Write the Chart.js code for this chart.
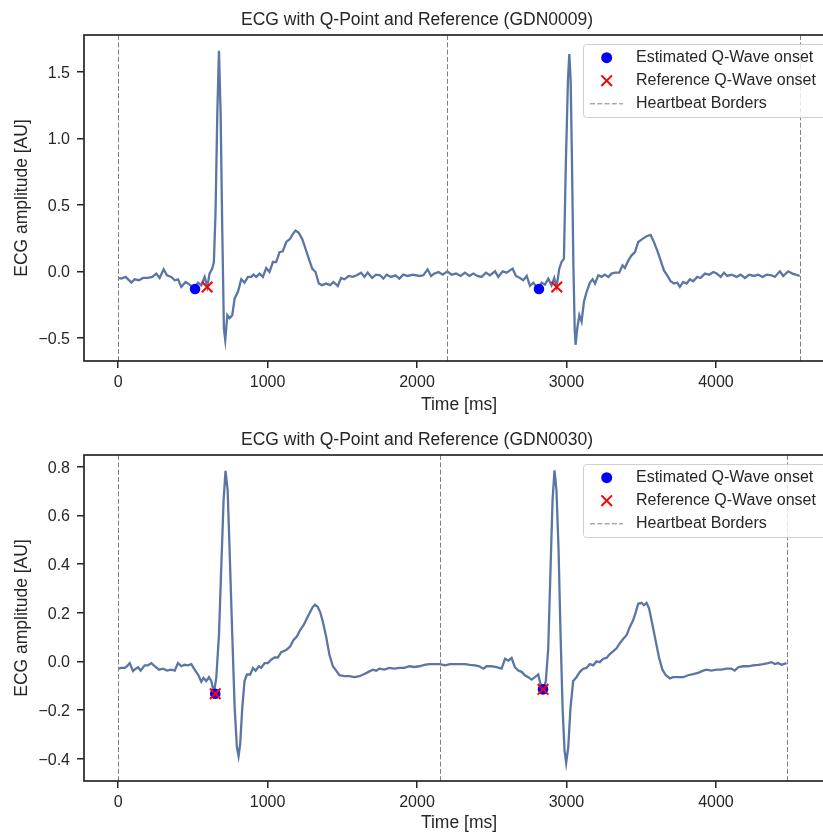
<!DOCTYPE html>
<html>
<head>
<meta charset="utf-8">
<script src="https://cdn.jsdelivr.net/npm/chart.js@4.4.1/dist/chart.umd.min.js"></script>
<style>
    html, body { margin: 0; padding: 0; background: #fff; overflow: hidden; width: 823px; height: 832px; }
    canvas { display: block; }
</style>
</head>
<body>
<canvas id="ecgTop" width="850" height="416"></canvas>
<canvas id="ecgBottom" width="850" height="420"></canvas>
<script>
// ---- datos GDN0009 ----
const ecg1Time = [0,22,51,89,111,140,167,200,229,256,278,305,327,356,379,401,423,452,479,508,535,557,579,597,612,630,641,652,664,675,686,697,708,717,731,746,764,780,802,824,846,869,891,906,924,947,969,991,1013,1036,1058,1080,1102,1125,1151,1169,1187,1209,1232,1254,1276,1299,1321,1343,1365,1392,1419,1441,1470,1492,1514,1543,1570,1597,1626,1648,1670,1699,1726,1753,1775,1797,1826,1855,1882,1908,1937,1971,2016,2042,2071,2094,2116,2145,2172,2203,2232,2261,2292,2321,2350,2377,2404,2432,2461,2488,2522,2544,2573,2600,2622,2640,2662,2689,2711,2734,2756,2778,2800,2811,2834,2856,2878,2900,2918,2934,2952,2967,2983,2996,3010,3019,3028,3037,3046,3055,3061,3072,3086,3101,3117,3135,3157,3175,3191,3213,3235,3257,3280,3302,3324,3353,3375,3391,3414,3436,3458,3480,3509,3536,3563,3585,3607,3630,3652,3674,3697,3719,3741,3759,3781,3804,3826,3848,3875,3897,3926,3955,3982,4005,4032,4054,4076,4105,4138,4165,4194,4223,4254,4283,4312,4339,4372,4394,4428,4450,4483,4512,4534,4561];
const ecg1Amp = [-0.05,-0.055,-0.042,-0.085,-0.06,-0.067,-0.05,-0.05,-0.042,-0.017,-0.05,0.015,-0.03,-0.042,-0.067,-0.06,-0.117,-0.08,-0.1,-0.13,-0.085,-0.105,-0.042,-0.117,-0.017,0.02,0.07,0.44,1.19,1.657,1.19,0.32,-0.43,-0.515,-0.33,-0.353,-0.33,-0.204,-0.154,-0.06,-0.085,-0.042,-0.042,-0.025,-0.042,-0.017,-0.042,0.025,-0.005,0.07,0.07,0.144,0.15,0.22,0.244,0.28,0.306,0.289,0.244,0.17,0.095,0.02,-0.005,-0.092,-0.104,-0.092,-0.104,-0.08,-0.11,-0.05,-0.06,-0.035,-0.042,-0.03,-0.01,-0.042,-0.01,-0.05,-0.025,-0.03,-0.055,-0.025,-0.042,-0.03,-0.055,-0.025,-0.035,-0.025,-0.035,-0.03,0.015,-0.035,-0.017,-0.005,-0.025,0,-0.025,-0.017,-0.035,-0.01,-0.035,-0.017,-0.035,-0.042,-0.01,-0.03,0,-0.042,0,-0.01,0.007,0.02,-0.035,-0.05,-0.067,-0.035,-0.11,-0.085,-0.117,-0.13,-0.085,-0.1,-0.055,-0.105,-0.05,-0.117,0.02,0.07,0.095,0.816,1.438,1.632,1.438,0.816,0.07,-0.43,-0.552,-0.43,-0.33,-0.378,-0.229,-0.154,-0.085,-0.06,-0.092,-0.03,-0.042,-0.025,-0.042,-0.017,-0.01,-0.01,0.045,0.025,0.082,0.12,0.144,0.22,0.244,0.264,0.274,0.22,0.157,0.082,0.007,-0.03,-0.075,-0.092,-0.085,-0.117,-0.08,-0.092,-0.06,-0.075,-0.042,-0.05,-0.017,-0.025,-0.005,-0.017,-0.042,-0.01,-0.035,-0.025,-0.042,-0.025,-0.05,-0.025,-0.035,-0.025,-0.042,-0.025,-0.03,-0.042,0,-0.035,0,-0.017,-0.025,-0.035];
const q1EstTime = [515, 2816];
const q1EstAmp = [-0.133, -0.133];
const q1RefTime = [596, 2935];
const q1RefAmp = [-0.118, -0.118];
const borders1 = [0, 2200, 4562];

// ---- datos GDN0030 ----
const ecg2Time = [0,22,45,60,78,100,118,134,151,178,200,223,245,274,301,327,356,379,401,423,445,468,490,512,535,557,572,590,608,624,641,657,675,690,706,719,733,746,764,780,795,806,817,831,846,862,884,902,920,942,958,980,1002,1024,1047,1069,1091,1125,1151,1174,1196,1218,1241,1263,1285,1303,1318,1336,1352,1370,1392,1414,1437,1459,1481,1514,1548,1581,1615,1648,1682,1704,1726,1748,1782,1815,1849,1882,1915,1949,1982,2016,2049,2082,2116,2154,2187,2221,2254,2288,2321,2354,2388,2417,2444,2466,2499,2533,2566,2589,2611,2633,2655,2678,2700,2722,2745,2767,2789,2811,2827,2845,2862,2878,2894,2907,2920,2933,2947,2960,2974,2987,2998,3012,3027,3045,3067,3090,3112,3134,3156,3179,3201,3223,3246,3268,3290,3312,3335,3357,3379,3402,3424,3446,3464,3480,3502,3518,3536,3553,3576,3598,3620,3642,3665,3692,3714,3747,3781,3814,3848,3881,3915,3937,3970,4004,4037,4071,4104,4126,4149,4182,4216,4249,4283,4316,4349,4372,4394,4416,4439,4472];
const ecg2Amp = [-0.03,-0.027,-0.027,-0.02,-0.007,-0.04,-0.03,-0.024,-0.038,-0.016,-0.016,-0.007,-0.02,-0.034,-0.03,-0.038,-0.034,-0.038,-0.007,-0.02,-0.014,-0.016,-0.011,-0.034,-0.054,-0.084,-0.068,-0.081,-0.065,-0.081,-0.129,-0.068,0.108,0.38,0.664,0.784,0.705,0.461,0.108,-0.19,-0.353,-0.39,-0.339,-0.19,-0.081,-0.054,-0.054,-0.027,-0.038,-0.02,-0.027,-0.007,-0.007,0.007,0.016,0.016,0.038,0.047,0.061,0.088,0.102,0.129,0.149,0.176,0.203,0.224,0.233,0.224,0.203,0.163,0.102,0.027,-0.02,-0.038,-0.057,-0.061,-0.061,-0.065,-0.061,-0.052,-0.041,-0.034,-0.038,-0.03,-0.034,-0.027,-0.03,-0.027,-0.027,-0.02,-0.023,-0.02,-0.014,-0.011,-0.011,-0.011,-0.016,-0.011,-0.011,-0.011,-0.011,-0.014,-0.016,-0.02,-0.03,-0.02,-0.02,-0.024,-0.03,0.011,0.003,0.014,-0.024,-0.038,-0.043,-0.057,-0.065,-0.075,-0.065,-0.054,-0.095,-0.119,-0.081,0.054,0.393,0.664,0.786,0.705,0.461,0.122,-0.19,-0.366,-0.418,-0.353,-0.19,-0.081,-0.065,-0.043,-0.03,-0.027,-0.011,-0.016,0,-0.003,0.011,0.014,0.03,0.041,0.054,0.075,0.092,0.108,0.142,0.169,0.203,0.237,0.241,0.231,0.241,0.217,0.149,0.081,0.014,-0.034,-0.057,-0.07,-0.065,-0.065,-0.065,-0.057,-0.052,-0.047,-0.038,-0.034,-0.038,-0.034,-0.034,-0.03,-0.03,-0.038,-0.024,-0.02,-0.02,-0.016,-0.014,-0.011,-0.007,-0.003,-0.011,-0.007,-0.014,-0.007];
const q2EstTime = [650, 2843];
const q2EstAmp = [-0.133, -0.115];
const q2RefTime = [650, 2843];
const q2RefAmp = [-0.133, -0.115];
const borders2 = [0, 2154, 4473];

// ---- ejes ----
const xTicks = [0, 1000, 2000, 3000, 4000];
const xTickLabels = ["0", "1000", "2000", "3000", "4000"];
const y1Ticks = [-0.5, 0, 0.5, 1.0, 1.5];
const y1TickLabels = ["\u22120.5", "0.0", "0.5", "1.0", "1.5"];
const y2Ticks = [-0.4, -0.2, 0, 0.2, 0.4, 0.6, 0.8];
const y2TickLabels = ["\u22120.4", "\u22120.2", "0.0", "0.2", "0.4", "0.6", "0.8"];

const legendLabels = ["Estimated Q-Wave onset", "Reference Q-Wave onset", "Heartbeat Borders"];

const TEXTO = "#262626";
const FUENTE = "'Liberation Sans', Arial, sans-serif";
const COLOR_ECG = "#5a76a5";

function puntos(xs, ys) {
    return xs.map((x, i) => ({ x: x, y: ys[i] }));
}

function crearGrafico(id, cfg) {
    const ctx = document.getElementById(id).getContext("2d");

    // bordes de latido (lineas verticales discontinuas)
    const pluginBordes = {
        id: "bordes",
        afterDatasetsDraw(chart) {
            const c = chart.ctx;
            const area = chart.chartArea;
            const sx = chart.scales.x;
            c.save();
            c.strokeStyle = "#808080";
            c.lineWidth = 1;
            c.setLineDash([5, 2.3]);
            cfg.borders.forEach(b => {
                const px = Math.round(sx.getPixelForValue(b)) + 0.5;
                c.beginPath();
                c.moveTo(px, area.top);
                c.lineTo(px, area.bottom);
                c.stroke();
            });
            c.restore();
        }
    };

    // marco completo + leyenda
    const pluginMarco = {
        id: "marco",
        afterDraw(chart) {
            const c = chart.ctx;
            const a = chart.chartArea;
            c.save();
            c.strokeStyle = TEXTO;
            c.lineWidth = 1.7;
            c.strokeRect(a.left, a.top, a.right - a.left, a.bottom - a.top);

            // leyenda
            const lx = 583, ly = a.top + 9, lw = a.right - 7 - lx, lh = 73;
            c.fillStyle = "rgba(255,255,255,0.8)";
            c.strokeStyle = "#d0d0d0";
            c.lineWidth = 1;
            c.beginPath();
            c.roundRect(lx + 0.5, ly + 0.5, lw, lh, 3);
            c.fill();
            c.stroke();

            const filas = [ly + 13.7, ly + 36.7, ly + 59.3];
            const mx = lx + 23.7;
            c.fillStyle = "#0000ff";
            c.beginPath();
            c.arc(mx, filas[0], 5.5, 0, Math.PI * 2);
            c.fill();

            c.strokeStyle = "#ff0000";
            c.lineWidth = 2;
            c.beginPath();
            c.moveTo(mx - 5.3, filas[1] - 5.3); c.lineTo(mx + 5.3, filas[1] + 5.3);
            c.moveTo(mx - 5.3, filas[1] + 5.3); c.lineTo(mx + 5.3, filas[1] - 5.3);
            c.stroke();

            c.strokeStyle = "#808080";
            c.lineWidth = 1;
            c.setLineDash([5, 2.3]);
            c.beginPath();
            c.moveTo(lx + 7, filas[2] + 0.5);
            c.lineTo(lx + 40, filas[2] + 0.5);
            c.stroke();
            c.setLineDash([]);

            c.fillStyle = TEXTO;
            c.font = "16px " + FUENTE;
            c.textBaseline = "middle";
            c.textAlign = "left";
            legendLabels.forEach((t, i) => c.fillText(t, lx + 53, filas[i]));
            c.restore();
        }
    };

    return new Chart(ctx, {
        type: "line",
        data: {
            datasets: [
                {
                    label: "ECG",
                    data: puntos(cfg.time, cfg.amp),
                    borderColor: COLOR_ECG,
                    borderWidth: 2.3,
                    pointRadius: 0,
                    tension: 0,
                    fill: false,
                    order: 3
                },
                {
                    type: "scatter",
                    label: legendLabels[0],
                    data: puntos(cfg.estTime, cfg.estAmp),
                    pointStyle: "circle",
                    pointRadius: 5.3,
                    backgroundColor: "#0000ff",
                    borderWidth: 0,
                    order: 2
                },
                {
                    type: "scatter",
                    label: legendLabels[1],
                    data: puntos(cfg.refTime, cfg.refAmp),
                    pointStyle: "crossRot",
                    pointRadius: 7.5,
                    borderColor: "#ff0000",
                    borderWidth: 2,
                    order: 1
                }
            ]
        },
        options: {
            responsive: false,
            animation: false,
            devicePixelRatio: 1,
            layout: { padding: { left: 0, right: 16, top: 0, bottom: 0 } },
            plugins: {
                legend: { display: false },
                tooltip: { enabled: false },
                title: {
                    display: true,
                    text: cfg.titulo,
                    color: TEXTO,
                    font: { family: FUENTE, size: 17.5, weight: "normal", lineHeight: 1.2 },
                    padding: cfg.titlePad
                }
            },
            scales: {
                x: {
                    type: "linear",
                    min: -228,
                    max: 4790,
                    afterBuildTicks: s => { s.ticks = xTicks.map(v => ({ value: v })); },
                    afterFit: s => { s.height = cfg.xHeight; },
                    ticks: {
                        callback: (v, i) => xTickLabels[i],
                        color: TEXTO,
                        font: { family: FUENTE, size: 16 },
                        padding: 5,
                        maxRotation: 0,
                        autoSkip: false
                    },
                    grid: { drawOnChartArea: false, drawTicks: true, tickLength: 7, color: TEXTO, lineWidth: 1.5 },
                    border: { display: false },
                    title: {
                        display: true,
                        text: "Time [ms]",
                        color: TEXTO,
                        font: { family: FUENTE, size: 17.5, lineHeight: 1.2 },
                        padding: { top: 0, bottom: cfg.xTitlePad }
                    }
                },
                y: {
                    type: "linear",
                    min: cfg.yMin,
                    max: cfg.yMax,
                    afterBuildTicks: s => { s.ticks = cfg.yTicks.map(v => ({ value: v })); },
                    afterFit: s => { s.width = 84; },
                    ticks: {
                        callback: (v, i) => cfg.yTickLabels[i],
                        color: TEXTO,
                        font: { family: FUENTE, size: 16 },
                        padding: 7,
                        labelOffset: 1.5,
                        autoSkip: false
                    },
                    grid: { drawOnChartArea: false, drawTicks: true, tickLength: 7, color: TEXTO, lineWidth: 1.5 },
                    border: { display: false },
                    title: {
                        display: true,
                        text: "ECG amplitude [AU]",
                        color: TEXTO,
                        font: { family: FUENTE, size: 17.5, lineHeight: 1.2 },
                        padding: { top: 11.5, bottom: 0 }
                    }
                }
            }
        },
        plugins: [pluginBordes, pluginMarco]
    });
}

crearGrafico("ecgTop", {
    titulo: "ECG with Q-Point and Reference (GDN0009)",
    time: ecg1Time, amp: ecg1Amp,
    estTime: q1EstTime, estAmp: q1EstAmp,
    refTime: q1RefTime, refAmp: q1RefAmp,
    borders: borders1,
    yMin: -0.674, yMax: 1.776,
    yTicks: y1Ticks, yTickLabels: y1TickLabels,
    titlePad: { top: 9.5, bottom: 4.5 },
    xHeight: 55,
    xTitlePad: 0.5
});

crearGrafico("ecgBottom", {
    titulo: "ECG with Q-Point and Reference (GDN0030)",
    time: ecg2Time, amp: ecg2Amp,
    estTime: q2EstTime, estAmp: q2EstAmp,
    refTime: q2RefTime, refAmp: q2RefAmp,
    borders: borders2,
    yMin: -0.492, yMax: 0.849,
    yTicks: y2Ticks, yTickLabels: y2TickLabels,
    titlePad: { top: 13.5, bottom: 4.5 },
    xHeight: 55,
    xTitlePad: 2.5
});
</script>
</body>
</html>
